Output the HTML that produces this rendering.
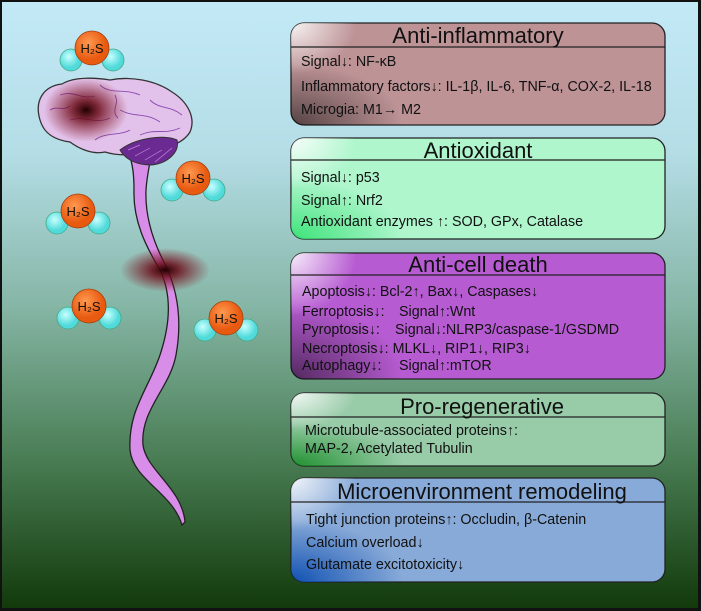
<!DOCTYPE html>
<html><head><meta charset="utf-8"><style>
body{margin:0;width:701px;height:611px;overflow:hidden;background:#000}
svg{display:block}
text{font-family:"Liberation Sans",sans-serif;fill:#111}
.h{font-size:22px;text-anchor:middle}
.b{font-size:14.3px}
</style></head><body>
<svg width="701" height="611" viewBox="0 0 701 611">
<defs>
<linearGradient id="bg" x1="0" y1="0" x2="0" y2="1">
<stop offset="0" stop-color="#c3e9f7"/><stop offset="0.25" stop-color="#b4dde6"/>
<stop offset="0.5" stop-color="#86b6a6"/><stop offset="0.75" stop-color="#4a7e55"/>
<stop offset="1" stop-color="#123a0b"/></linearGradient>
<radialGradient id="dk" cx="0" cy="1" r="0.6" gradientTransform="scale(0.5,1)"><stop offset="0" stop-color="#000" stop-opacity="0.55"/><stop offset="1" stop-color="#000" stop-opacity="0"/></radialGradient>
<radialGradient id="dg" cx="0" cy="1" r="0.6" gradientTransform="scale(0.5,1)"><stop offset="0" stop-color="#30e070" stop-opacity="0.9"/><stop offset="1" stop-color="#30e070" stop-opacity="0"/></radialGradient>
<radialGradient id="dg2" cx="0" cy="1" r="0.6" gradientTransform="scale(0.5,1)"><stop offset="0" stop-color="#108a20" stop-opacity="0.9"/><stop offset="1" stop-color="#108a20" stop-opacity="0"/></radialGradient>
<radialGradient id="db" cx="0" cy="1" r="0.6" gradientTransform="scale(0.5,1)"><stop offset="0" stop-color="#0a4cb0" stop-opacity="0.95"/><stop offset="1" stop-color="#0a4cb0" stop-opacity="0"/></radialGradient>
<radialGradient id="lt" cx="0" cy="0" r="0.5" gradientTransform="scale(0.35,1)"><stop offset="0" stop-color="#fff" stop-opacity="0.9"/><stop offset="1" stop-color="#fff" stop-opacity="0"/></radialGradient>
<radialGradient id="hot"><stop offset="0" stop-color="#200"/><stop offset="0.3" stop-color="#6a0c18" stop-opacity="0.85"/><stop offset="1" stop-color="#8a1020" stop-opacity="0"/></radialGradient>
<radialGradient id="orb" cx="0.4" cy="0.35"><stop offset="0" stop-color="#ff9a50"/><stop offset="1" stop-color="#e85a10"/></radialGradient>
<radialGradient id="cy" cx="0.4" cy="0.35"><stop offset="0" stop-color="#c8ffff"/><stop offset="1" stop-color="#50dada"/></radialGradient>
<g id="h2s">
<circle cx="-21" cy="12" r="11" fill="url(#cy)" stroke="#4a8" stroke-width="0.8"/>
<circle cx="21" cy="12" r="11" fill="url(#cy)" stroke="#4a8" stroke-width="0.8"/>
<circle cx="0" cy="0" r="17" fill="url(#orb)" stroke="#a04010" stroke-width="0.8"/>
<text x="0" y="5" font-size="13" text-anchor="middle" fill="#222">H₂S</text></g>
</defs>
<rect x="0" y="0" width="701" height="611" fill="#111"/>
<rect x="2" y="2" width="696" height="606" fill="url(#bg)"/>
<!-- spinal cord -->
<path d="M128 150 C133 165 134 175 134 190 C133 220 145 245 160 270 C172 295 170 325 160 355 C148 390 128 410 130 450 C133 480 172 492 182 525 L185 522 C182 488 146 470 143 445 C140 410 170 388 176 355 C182 322 178 292 166 266 C152 240 145 215 146 190 C147 175 150 162 152 152 Z" fill="#d88ee8" stroke="#222" stroke-width="1.3"/>
<ellipse cx="165" cy="270" rx="45" ry="22" fill="url(#hot)"/>
<!-- brain -->
<path d="M40 120 C34 100 44 86 62 84 C75 76 98 78 110 80 C130 76 155 80 172 92 C188 102 196 118 190 132 C182 145 165 148 150 150 C135 156 118 156 105 152 C92 155 78 148 70 142 C55 140 44 134 40 120 Z" fill="#e2c2ea" stroke="#333" stroke-width="1.3"/>
<path d="M120 150 C135 138 165 134 177 140 C180 152 168 163 152 165 C136 165 126 160 120 150 Z" fill="#6a2a92" stroke="#333" stroke-width="1"/>
<g stroke="#c48ae0" stroke-width="0.7" fill="none"><path d="M128 150 L140 145 M135 156 L150 148 M145 160 L162 150 M155 162 L172 148"/></g>
<g stroke="#8a4ab0" stroke-width="0.9" fill="none">
<path d="M60 95 C75 90 80 100 95 96"/><path d="M100 85 C110 95 125 88 140 95"/><path d="M150 100 C160 110 170 105 182 115"/><path d="M70 120 C85 115 95 125 110 118"/><path d="M120 110 C135 118 145 112 160 122"/><path d="M95 140 C105 132 120 136 130 130"/><path d="M50 110 C58 105 62 112 70 106"/><path d="M140 135 C155 128 165 135 180 128"/><path d="M115 95 C120 105 110 110 118 118"/></g>
<ellipse cx="86" cy="110" rx="42" ry="32" fill="url(#hot)"/>
<use href="#h2s" x="92" y="48"/>
<use href="#h2s" x="193" y="178"/>
<use href="#h2s" x="78" y="211"/>
<use href="#h2s" x="89" y="306"/>
<use href="#h2s" x="226" y="318"/>
<!-- boxes -->
<g stroke="#222" stroke-width="1.3">
<rect x="291" y="23" width="374" height="102" rx="13" fill="#bd9396"/>
<rect x="291" y="23" width="374" height="102" rx="13" fill="url(#dk)" stroke="none"/>
<rect x="291" y="23" width="374" height="102" rx="13" fill="url(#lt)" stroke="none"/>
<line x1="291" y1="47" x2="665" y2="47"/>
<rect x="291" y="138" width="374" height="101" rx="13" fill="#aff6cd"/>
<rect x="291" y="138" width="374" height="101" rx="13" fill="url(#dg)" stroke="none"/>
<rect x="291" y="138" width="374" height="101" rx="13" fill="url(#lt)" stroke="none"/>
<line x1="291" y1="160" x2="665" y2="160"/>
<rect x="291" y="253" width="374" height="126" rx="13" fill="#b75bd2"/>
<rect x="291" y="253" width="374" height="126" rx="13" fill="url(#dk)" stroke="none"/>
<rect x="291" y="253" width="374" height="126" rx="13" fill="url(#lt)" stroke="none"/>
<line x1="291" y1="275" x2="665" y2="275"/>
<rect x="291" y="393" width="374" height="73" rx="13" fill="#98cba8"/>
<rect x="291" y="393" width="374" height="73" rx="13" fill="url(#dg2)" stroke="none"/>
<rect x="291" y="393" width="374" height="73" rx="13" fill="url(#lt)" stroke="none"/>
<line x1="291" y1="417" x2="665" y2="417"/>
<rect x="291" y="478" width="374" height="104" rx="13" fill="#88aad8"/>
<rect x="291" y="478" width="374" height="104" rx="13" fill="url(#db)" stroke="none"/>
<rect x="291" y="478" width="374" height="104" rx="13" fill="url(#lt)" stroke="none"/>
<line x1="291" y1="502" x2="665" y2="502"/>
</g>
<text class="h" x="478" y="43">Anti-inflammatory</text>
<text class="b" x="301" y="66">Signal↓: NF-κB</text>
<text class="b" x="301" y="91">Inflammatory factors↓: IL-1β, IL-6, TNF-α, COX-2, IL-18</text>
<text class="b" x="301" y="114">Microgia: M1→ M2</text>
<text class="h" x="478" y="158">Antioxidant</text>
<text class="b" x="301" y="182">Signal↓: p53</text>
<text class="b" x="301" y="205">Signal↑: Nrf2</text>
<text class="b" x="301" y="226">Antioxidant enzymes ↑: SOD, GPx, Catalase</text>
<text class="h" x="478" y="272">Anti-cell death</text>
<text class="b" x="302" y="296">Apoptosis↓: Bcl-2↑, Bax↓, Caspases↓</text>
<text class="b" x="302" y="316">Ferroptosis↓:<tspan x="399">Signal↑:Wnt</tspan></text>
<text class="b" x="302" y="334">Pyroptosis↓:<tspan x="395">Signal↓:NLRP3/caspase-1/GSDMD</tspan></text>
<text class="b" x="302" y="353">Necroptosis↓: MLKL↓, RIP1↓, RIP3↓</text>
<text class="b" x="302" y="370">Autophagy↓:<tspan x="399">Signal↑:mTOR</tspan></text>
<text class="h" x="482" y="414">Pro-regenerative</text>
<text class="b" x="305" y="435">Microtubule-associated proteins↑:</text>
<text class="b" x="305" y="453">MAP-2, Acetylated Tubulin</text>
<text class="h" x="482" y="499">Microenvironment remodeling</text>
<text class="b" x="306" y="524">Tight junction proteins↑: Occludin, β-Catenin</text>
<text class="b" x="306" y="547">Calcium overload↓</text>
<text class="b" x="306" y="569">Glutamate excitotoxicity↓</text>
</svg>
</body></html>
